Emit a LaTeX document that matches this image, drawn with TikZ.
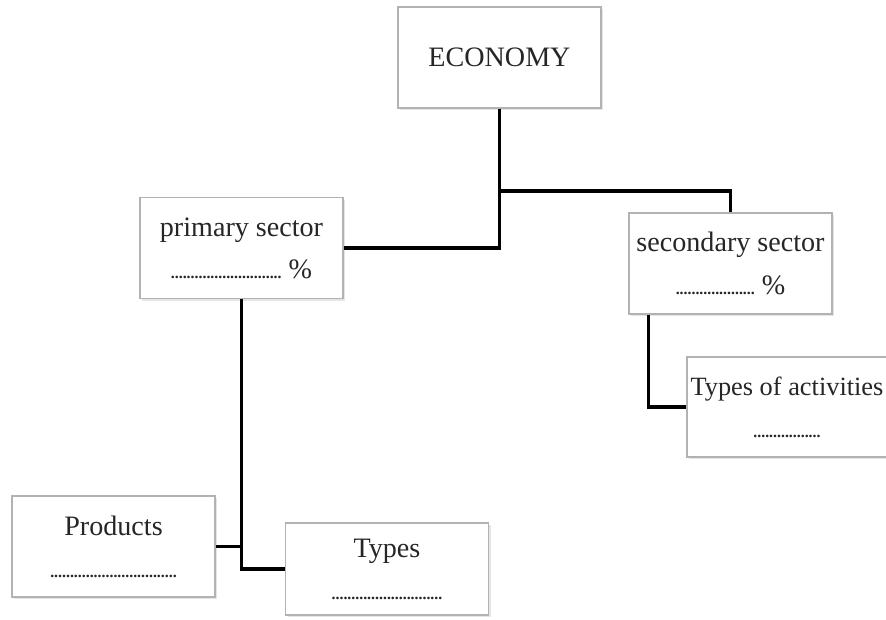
\documentclass[tikz,border=0pt]{standalone}
\usepackage{fontspec}
\setmainfont{Liberation Serif}
\usetikzlibrary{shadows}

% a row of small dots to be filled in
\newcommand\fillin[1]{{\fontsize{9}{9}\bfseries\selectfont\foreach \i in {1,...,#1}{.}}}

\begin{document}
\begin{tikzpicture}[x=0.02cm, y=-0.02cm,
  box/.style={rectangle, draw=gray!60, line width=0.7pt, fill=white,
    drop shadow={opacity=0.2, shadow xshift=1.2pt, shadow yshift=-1.2pt},
    minimum width=4.06cm, minimum height=2.02cm, inner sep=0pt,
    align=center, text=black!85, font=\fontsize{16}{24}\selectfont},
  link/.style={line width=1.8pt, black}]
\useasboundingbox (0,0) rectangle (886,619);

\node[box] (economy)    at (499.5,57.5) {ECONOMY};
\node[box] (primary)    at (241.5,248)  {primary sector\\\fillin{28}~\%};
\node[box] (secondary)  at (730.5,263.5) {secondary sector\\\fillin{20}~\%};
\node[box, minimum width=4cm, minimum height=2cm, font=\fontsize{15}{24}\selectfont] (activities) at (787,407) {Types of activities\\\fillin{17}};
\node[box] (products)   at (113.5,546.5) {Products\\\fillin{32}};
\node[box, minimum height=1.84cm] (types) at (387,569) {Types\\\fillin{28}};

\coordinate (split) at (499.5,191);

\draw[link] (economy.south) |- (primary.east);
\draw[link] (split) -| (secondary.north);
\draw[link] (primary.south) |- (types.west);
\draw[link] (products.east) -- (primary.south |- products.east);
\draw[link] ([xshift=0.4cm]secondary.south west) |- (activities.west);
\end{tikzpicture}
\end{document}
